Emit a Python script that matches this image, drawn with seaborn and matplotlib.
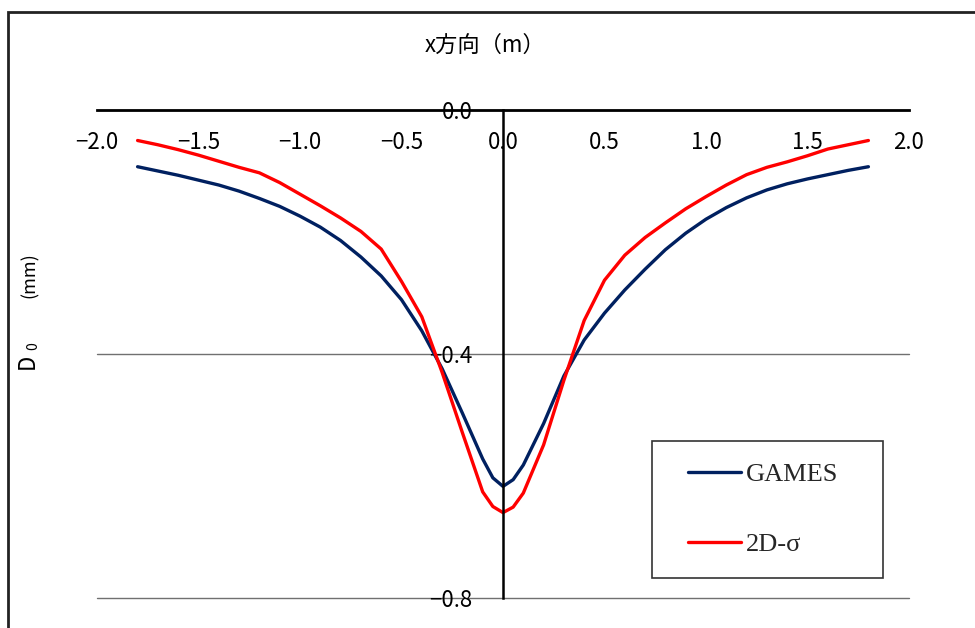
import matplotlib
matplotlib.use("Agg")
import matplotlib.pyplot as plt
import numpy as np
import pandas as pd
import seaborn as sns
from matplotlib.patches import Rectangle

# Horizontal position (m) and settlement D0 (mm) for both models
x_pos = [-1.8, -1.7, -1.6, -1.5, -1.4, -1.3, -1.2, -1.1, -1.0, -0.9, -0.8,
         -0.7, -0.6, -0.5, -0.4, -0.3, -0.2, -0.1, -0.05, 0.0, 0.05, 0.1,
         0.2, 0.3, 0.4, 0.5, 0.6, 0.7, 0.8, 0.9, 1.0, 1.1, 1.2, 1.3, 1.4,
         1.5, 1.6, 1.7, 1.8]
games = [-0.093, -0.100, -0.107, -0.115, -0.123, -0.133, -0.145, -0.158,
         -0.174, -0.192, -0.214, -0.241, -0.272, -0.311, -0.362, -0.424,
         -0.497, -0.572, -0.603, -0.617, -0.606, -0.582, -0.514, -0.436,
         -0.377, -0.333, -0.295, -0.261, -0.229, -0.202, -0.179, -0.160,
         -0.144, -0.131, -0.121, -0.113, -0.106, -0.099, -0.093]
sigma2d = [-0.050, -0.057, -0.065, -0.074, -0.084, -0.094, -0.103, -0.119,
           -0.138, -0.157, -0.177, -0.199, -0.228, -0.281, -0.339, -0.430,
           -0.529, -0.626, -0.650, -0.660, -0.651, -0.628, -0.549, -0.443,
           -0.345, -0.279, -0.238, -0.209, -0.185, -0.162, -0.142, -0.123,
           -0.106, -0.094, -0.085, -0.075, -0.064, -0.057, -0.050]
series_names = ["GAMES", "2D-σ"]
series_colors = ["#002060", "#ff0000"]
x_ticks = [-2.0, -1.5, -1.0, -0.5, 0.0, 0.5, 1.0, 1.5, 2.0]
y_ticks = [0.0, -0.4, -0.8]

sns.set_style("white")
plt.rcParams["font.family"] = ["Noto Sans CJK JP", "DejaVu Sans"]
plt.rcParams["lines.solid_joinstyle"] = "round"
plt.rcParams["lines.solid_capstyle"] = "round"

W, H = 975, 628
fig = plt.figure(figsize=(W / 100, H / 100), dpi=100)
ax = fig.add_axes([97 / W, 1 - 598 / H, (909 - 97) / W, (598 - 110) / H])

n = len(x_pos)
df = pd.DataFrame({
    "x": x_pos * 2,
    "D0": games + sigma2d,
    "series": [series_names[0]] * n + [series_names[1]] * n,
})
sns.lineplot(data=df, x="x", y="D0", hue="series",
             palette=dict(zip(series_names, series_colors)),
             linewidth=2.4, estimator=None, sort=False, ax=ax, zorder=3)

ax.set_xlim(-2.0, 2.0)
ax.set_ylim(-0.8, 0.0)

# Axes cross at the origin: x axis along D0 = 0, y axis along x = 0
for side in ("top", "right"):
    ax.spines[side].set_visible(False)
ax.spines["bottom"].set_position(("data", 0))
ax.spines["left"].set_position(("data", 0))
ax.spines["bottom"].set_linewidth(2.0)
ax.spines["left"].set_linewidth(1.8)
ax.spines["bottom"].set_color("black")
ax.spines["left"].set_color("black")
ax.spines["bottom"].set_zorder(4)
ax.spines["left"].set_zorder(4)

def fmt(v):
    return f"{v:.1f}".replace("-", "\u2212")

ax.set_xticks(x_ticks)
ax.set_xticklabels([fmt(v) for v in x_ticks])
ax.set_yticks(y_ticks)
ax.set_yticklabels([fmt(v) for v in y_ticks])
ax.tick_params(axis="x", direction="out", length=6, width=1.6, pad=9,
               labelsize=16, colors="black")
ax.tick_params(axis="y", direction="out", length=5, width=1.6, pad=17,
               labelsize=16, colors="black")
ax.set_xlabel("")
ax.set_ylabel("")

ax.yaxis.grid(True, color="#707070", linewidth=1.0)
ax.xaxis.grid(False)
ax.set_axisbelow(True)
for gl in ax.yaxis.get_gridlines():
    gl.set_clip_on(False)

# Legend
leg = ax.legend(loc="upper left", bbox_to_anchor=(688 / W, 1 - 463 / H),
                bbox_transform=fig.transFigure, frameon=False,
                prop={"family": "Liberation Serif", "size": 19},
                handlelength=2.0, handletextpad=0.2, labelspacing=1.74,
                borderpad=0, borderaxespad=0)
for line in leg.get_lines():
    line.set_linewidth(2.4)
fig.add_artist(Rectangle((652 / W, 1 - 578 / H), (883 - 652) / W,
                         (578 - 441) / H, transform=fig.transFigure,
                         fill=False, edgecolor="#333333", linewidth=1.2))

# Axis titles
fig.text(485 / W, 1 - 45 / H, "x方向（m）", ha="center", va="center",
         fontsize=16, color="black")
fig.text(27.5 / W, 1 - 361 / H, "D", ha="center", va="center",
         rotation=90, fontsize=16, color="black")
fig.text(33 / W, 1 - 346 / H, "0", ha="center", va="center",
         rotation=90, fontsize=10, color="black")
fig.text(30 / W, 1 - 275 / H, "(mm)", ha="center", va="center",
         rotation=90, fontsize=13, color="black")

# Outer frame
fig.add_artist(Rectangle((7.5 / W, -0.05), 1.2, 1 - 12 / H + 0.05,
                         transform=fig.transFigure, fill=False,
                         edgecolor="#222222", linewidth=2.0))

fig.savefig("out.png", dpi=100)
